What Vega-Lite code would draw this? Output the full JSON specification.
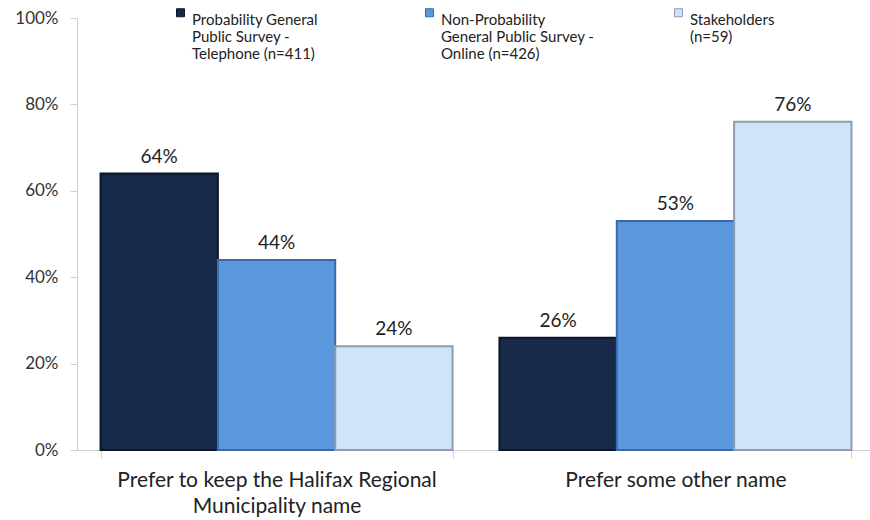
{
  "$schema": "https://vega.github.io/schema/vega-lite/v6.json",
  "autosize": {"type": "none"},
  "width": 798,
  "height": 432,
  "padding": {"left": 77, "top": 18, "right": 0, "bottom": 70},
  "background": "white",
  "config": {
    "view": {"stroke": null},
    "font": "Lato",
    "text": {"font": "Lato"}
  },
  "data": {
    "values": [
      {"cat": "Prefer to keep the Halifax Regional|Municipality name", "grp": "Probability General|Public Survey -|Telephone (n=411)", "ord": 1, "v": 0.64},
      {"cat": "Prefer to keep the Halifax Regional|Municipality name", "grp": "Non-Probability|General Public Survey -|Online (n=426)", "ord": 2, "v": 0.44},
      {"cat": "Prefer to keep the Halifax Regional|Municipality name", "grp": "Stakeholders|(n=59)| ", "ord": 3, "v": 0.24},
      {"cat": "Prefer some other name", "grp": "Probability General|Public Survey -|Telephone (n=411)", "ord": 1, "v": 0.26},
      {"cat": "Prefer some other name", "grp": "Non-Probability|General Public Survey -|Online (n=426)", "ord": 2, "v": 0.53},
      {"cat": "Prefer some other name", "grp": "Stakeholders|(n=59)| ", "ord": 3, "v": 0.76}
    ]
  },
  "encoding": {
    "x": {
      "field": "cat", "type": "nominal", "sort": null,
      "scale": {"paddingInner": 0.1175, "paddingOuter": 0.059},
      "axis": {
        "title": null, "labelAngle": 0,
        "labelExpr": "split(datum.label, '|')",
        "labelFont": "Lato", "labelFontSize": 21, "labelColor": "#222",
        "labelLineHeight": 26, "labelPadding": 11, "labelLimit": 500,
        "domainColor": "#d0d0d0", "tickColor": "#d0d0d0",
        "tickBand": "extent", "tickSize": 8
      }
    },
    "xOffset": {"field": "grp", "type": "nominal", "sort": {"field": "ord"}},
    "y": {
      "field": "v", "type": "quantitative",
      "scale": {"domain": [0, 1]},
      "axis": {
        "title": null, "format": ".0%", "values": [0, 0.2, 0.4, 0.6, 0.8, 1],
        "labelFont": "Lato", "labelFontSize": 17, "labelColor": "#333",
        "labelPadding": 12, "tickSize": 7,
        "domainColor": "#d0d0d0", "tickColor": "#d0d0d0", "grid": false
      }
    }
  },
  "layer": [
    {
      "mark": {"type": "bar", "strokeWidth": 2},
      "encoding": {
        "color": {
          "field": "grp", "type": "nominal", "sort": {"field": "ord"},
          "scale": {
            "domain": ["Probability General|Public Survey -|Telephone (n=411)", "Non-Probability|General Public Survey -|Online (n=426)", "Stakeholders|(n=59)| "],
            "range": ["#172a4a", "#5b97dd", "#d0e3f8"]
          },
          "legend": {
            "title": null, "orient": "none", "legendX": 96, "legendY": -13,
            "direction": "horizontal", "columns": 3, "gridAlign": "all",
            "columnPadding": 76,
            "labelExpr": "split(datum.label, '|')",
            "labelFont": "Lato", "labelFontSize": 15, "labelColor": "#222",
            "labelLineHeight": 21, "labelLimit": 300, "labelOffset": 4,
            "symbolType": "square", "symbolSize": 64, "symbolStrokeWidth": 1,
            "symbolStrokeColor": "#777",
            "labelBaseline": "top"
          }
        },
        "stroke": {
          "field": "grp", "type": "nominal", "sort": {"field": "ord"},
          "scale": {
            "domain": ["Probability General|Public Survey -|Telephone (n=411)", "Non-Probability|General Public Survey -|Online (n=426)", "Stakeholders|(n=59)| "],
            "range": ["#0b1628", "#3a6aa6", "#8d9cb0"]
          },
          "legend": null
        }
      }
    },
    {
      "mark": {"type": "text", "baseline": "bottom", "dy": -7, "fontSize": 19, "color": "#222", "font": "Lato"},
      "encoding": {
        "text": {"field": "v", "type": "quantitative", "format": ".0%"}
      }
    }
  ]
}
